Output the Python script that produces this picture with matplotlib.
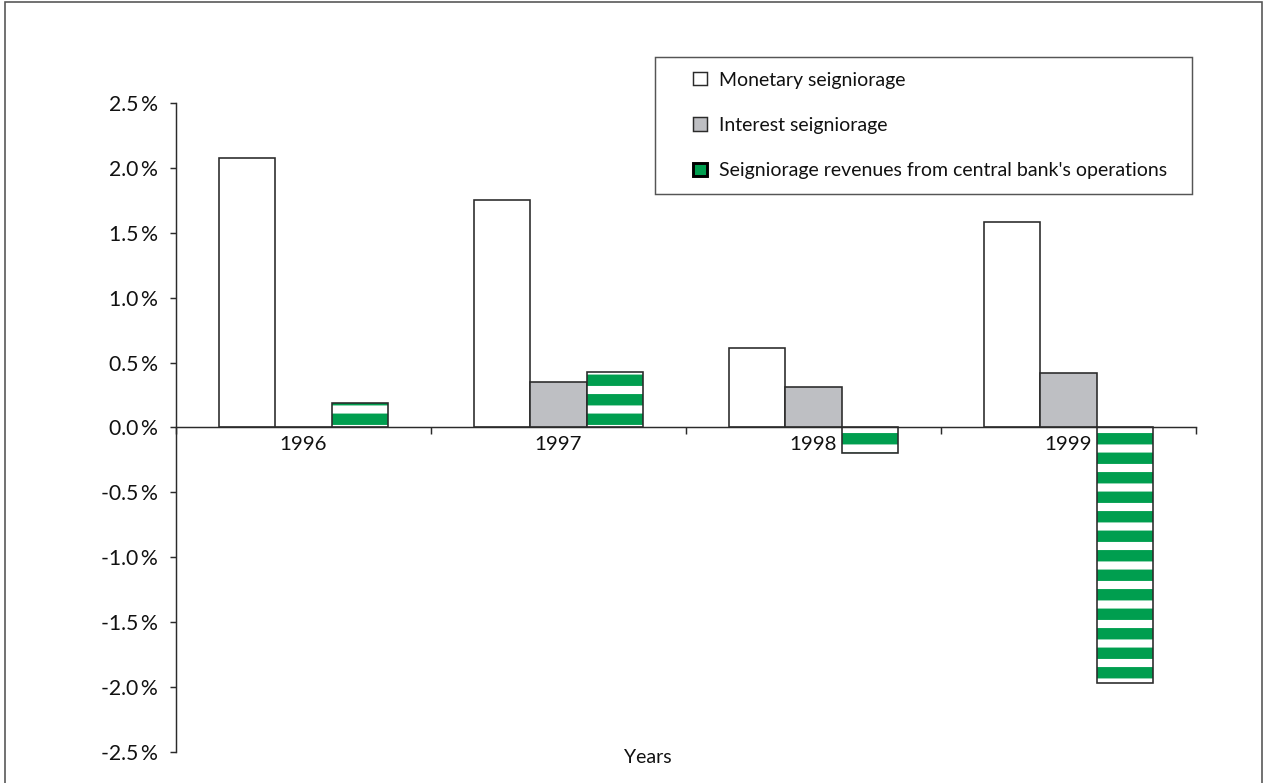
import matplotlib
matplotlib.use("Agg")
import matplotlib.pyplot as plt
from matplotlib.patches import Patch, Rectangle
from matplotlib.legend_handler import HandlerPatch
import numpy as np

years = ['1996', '1997', '1998', '1999']
monetary = [2.08, 1.75, 0.61, 1.58]
interest = [0.0, 0.35, 0.31, 0.42]
operations = [0.19, 0.43, -0.20, -1.97]
yticks = [-2.5, -2.0, -1.5, -1.0, -0.5, 0.0, 0.5, 1.0, 1.5, 2.0, 2.5]
labels = ['Monetary seigniorage', 'Interest seigniorage',
          "Seigniorage revenues from central bank's operations"]

GREEN = '#009E4F'
GREY = '#BEBFC3'
EDGE = '#2b2b2b'

DPI = 117
plt.rcParams['font.family'] = ['Lato', 'DejaVu Sans']
plt.rcParams['hatch.linewidth'] = 7.0

fig = plt.figure(figsize=(1264 / DPI, 783 / DPI), dpi=DPI)
ax = fig.add_axes([176 / 1264, 1 - 752 / 783, (1196 - 176) / 1264, (752 - 103) / 783])

x = np.arange(len(years))
w = 0.22
ax.bar(x - w, monetary, w, color='white', edgecolor=EDGE, linewidth=1.0, zorder=2)
ax.bar(x, interest, w, color=GREY, edgecolor=EDGE, linewidth=1.0, zorder=2)
ax.bar(x + w, operations, w, color='white', edgecolor=GREEN, hatch='-', linewidth=0, zorder=2)
ax.bar(x + w, operations, w, fill=False, edgecolor=EDGE, linewidth=1.0, zorder=3)

ax.set_xlim(-0.5, len(years) - 0.5)
ax.set_ylim(-2.5, 2.5)
ax.set_yticks(yticks)
ax.set_yticklabels([f'{v:.1f}\u2009%' for v in yticks])
ax.set_xticks(x)
ax.set_xticklabels(years)
ax.set_xticks(np.arange(len(years) + 1) - 0.5, minor=True)

for s in ['top', 'right']:
    ax.spines[s].set_visible(False)
ax.spines['bottom'].set_position(('data', 0))
ax.spines['bottom'].set_color(EDGE)
ax.spines['left'].set_color(EDGE)
ax.spines['bottom'].set_linewidth(0.9)
ax.spines['left'].set_linewidth(0.9)

ax.tick_params(axis='y', direction='out', length=4, width=0.9, color=EDGE,
               labelsize=13, pad=7, labelcolor='#111111')
ax.tick_params(axis='x', which='major', length=0, labelsize=12.5, pad=5, labelcolor='#111111')
ax.tick_params(axis='x', which='minor', direction='out', length=4, width=0.9, color=EDGE)

ax.text(0.4627, -0.008, 'Years', transform=ax.transAxes, ha='center', va='center',
        fontsize=12, color='#111111')


def square_patch(legend, orig_handle, xdescent, ydescent, width, height, fontsize):
    s = 0.68 * fontsize
    return Rectangle((-xdescent + width - s, -ydescent + (height - s) / 2), s, s)


handles = [Patch(facecolor='white', edgecolor=EDGE, linewidth=0.9),
           Patch(facecolor=GREY, edgecolor=EDGE, linewidth=0.9),
           Patch(facecolor=GREEN, edgecolor='black', linewidth=1.8)]
leg = fig.legend(handles, [l + '  ' for l in labels], loc='upper left',
                 bbox_to_anchor=(655 / 1264, 1 - 57 / 783), borderaxespad=0,
                 fontsize=12, frameon=True, fancybox=False, edgecolor=EDGE,
                 handlelength=1.9, handletextpad=0.65, labelspacing=1.45,
                 borderpad=0.75,
                 handler_map={Patch: HandlerPatch(patch_func=square_patch)})
leg.get_frame().set_linewidth(0.9)
for t in leg.get_texts():
    t.set_color('#111111')

fig.add_artist(Rectangle((5 / 1264, -0.02), (1262 - 5) / 1264, 1.02 - 2 / 783,
                         transform=fig.transFigure, fill=False, edgecolor='#555555',
                         linewidth=1.0))

fig.savefig('out.png', dpi=DPI)
